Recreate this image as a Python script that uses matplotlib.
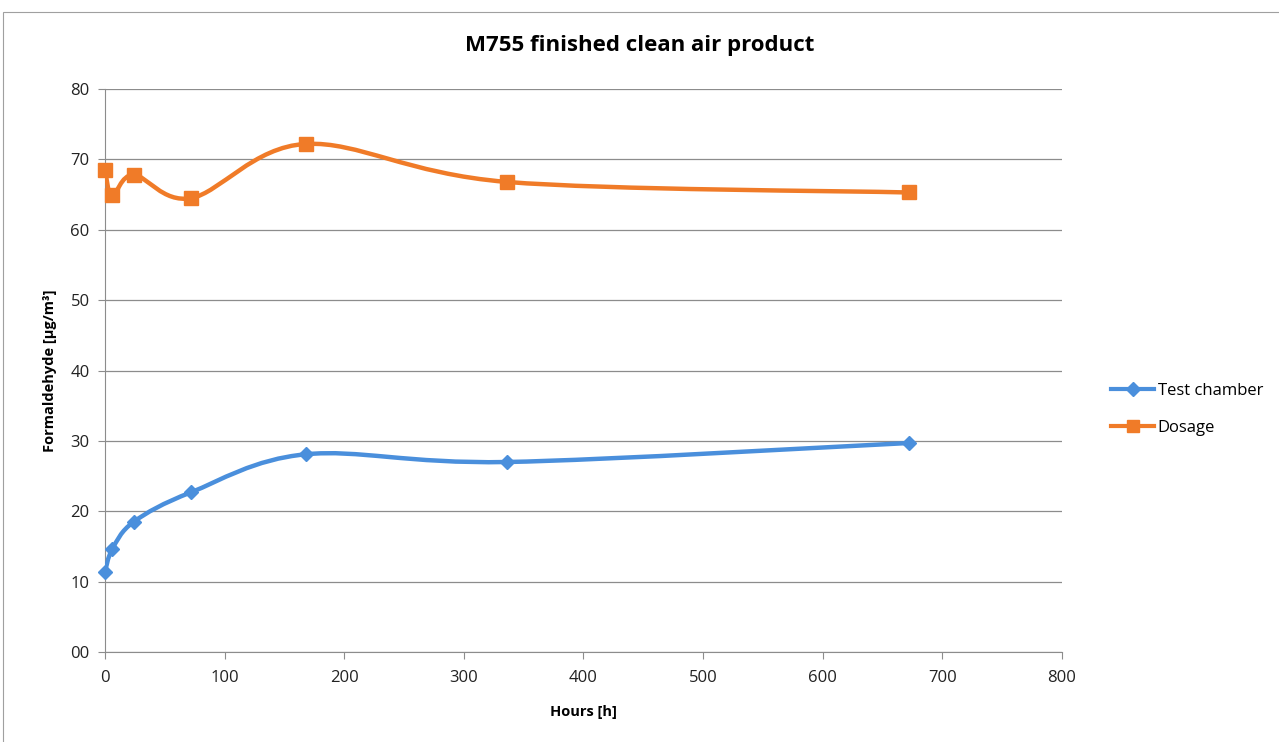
import matplotlib
matplotlib.use("Agg")
from matplotlib import pyplot as plt
from matplotlib.path import Path
from matplotlib.patches import PathPatch, Rectangle
from matplotlib.lines import Line2D
from matplotlib.ticker import FormatStrFormatter
import numpy as np

hours = [0, 6, 24, 72, 168, 336, 672]
test_chamber = [11.4, 14.6, 18.5, 22.7, 28.1, 27.0, 29.7]
dosage = [68.5, 64.9, 67.8, 64.5, 72.2, 66.8, 65.3]

series_names = ["Test chamber", "Dosage"]
blue = "#4a8fdc"
orange = "#f07b28"

plt.rcParams['font.family'] = ['Open Sans', 'DejaVu Sans']


def smooth_path(x, y):
    # excel style smoothed line: cubic bezier with 1/6 tangents
    x = np.asarray(x, float)
    y = np.asarray(y, float)
    n = len(x)
    verts = [(x[0], y[0])]
    codes = [Path.MOVETO]
    for i in range(n - 1):
        i0 = max(i - 1, 0)
        i3 = min(i + 2, n - 1)
        c1 = (x[i] + (x[i + 1] - x[i0]) / 6, y[i] + (y[i + 1] - y[i0]) / 6)
        c2 = (x[i + 1] - (x[i3] - x[i]) / 6, y[i + 1] - (y[i3] - y[i]) / 6)
        verts += [c1, c2, (x[i + 1], y[i + 1])]
        codes += [Path.CURVE4] * 3
    return Path(verts, codes)


fig = plt.figure(figsize=(12.79, 7.42), dpi=100)
fig.patches.append(Rectangle((3 / 1279, -0.01), 1.1, 1 - 12 / 742 + 0.01,
                             transform=fig.transFigure, fill=False,
                             edgecolor="#a0a0a0", linewidth=0.8))
ax = fig.add_axes([0.0821, 0.1213, 0.7482, 0.7587])

for yv, col, mk, ms in [(test_chamber, blue, "D", 7.5), (dosage, orange, "s", 10)]:
    ax.add_patch(PathPatch(smooth_path(hours, yv), facecolor="none",
                           edgecolor=col, linewidth=3.2, zorder=3))
    ax.plot(hours, yv, linestyle="none", marker=mk, markersize=ms,
            color=col, zorder=4, clip_on=False)

ax.set_xlim(0, 800)
ax.set_ylim(0, 80)
ax.set_xticks(range(0, 801, 100))
ax.set_yticks(range(0, 81, 10))
ax.yaxis.set_major_formatter(FormatStrFormatter('%02d'))
ax.grid(axis="y", color="#8c8c8c", linewidth=0.9)
ax.set_axisbelow(True)
for s in ["top", "right"]:
    ax.spines[s].set_visible(False)
for s in ["left", "bottom"]:
    ax.spines[s].set_color("#8c8c8c")
ax.tick_params(colors="#8c8c8c", labelcolor="#222222", labelsize=12, length=5)
ax.tick_params(axis="x", pad=8)
ax.tick_params(axis="y", pad=6)

fig.text(0.5, 1 - 46 / 742, "M755 finished clean air product", fontsize=16,
         fontweight="bold", ha="center", va="center")
ax.set_xlabel("Hours [h]", fontsize=10.5, fontweight="bold", labelpad=14)
ax.set_ylabel("Formaldehyde [µg/m³]", fontsize=10.5, fontweight="bold", labelpad=10)

handles = [Line2D([], [], color=blue, linewidth=3, marker="D", markersize=7),
           Line2D([], [], color=orange, linewidth=3, marker="s", markersize=9)]
fig.legend(handles, series_names, loc="upper left", bbox_to_anchor=(0.857, 0.504),
           frameon=False, fontsize=12, handlelength=2.6, handletextpad=0.2,
           labelspacing=1.25)

fig.savefig("out.png", dpi=100)
